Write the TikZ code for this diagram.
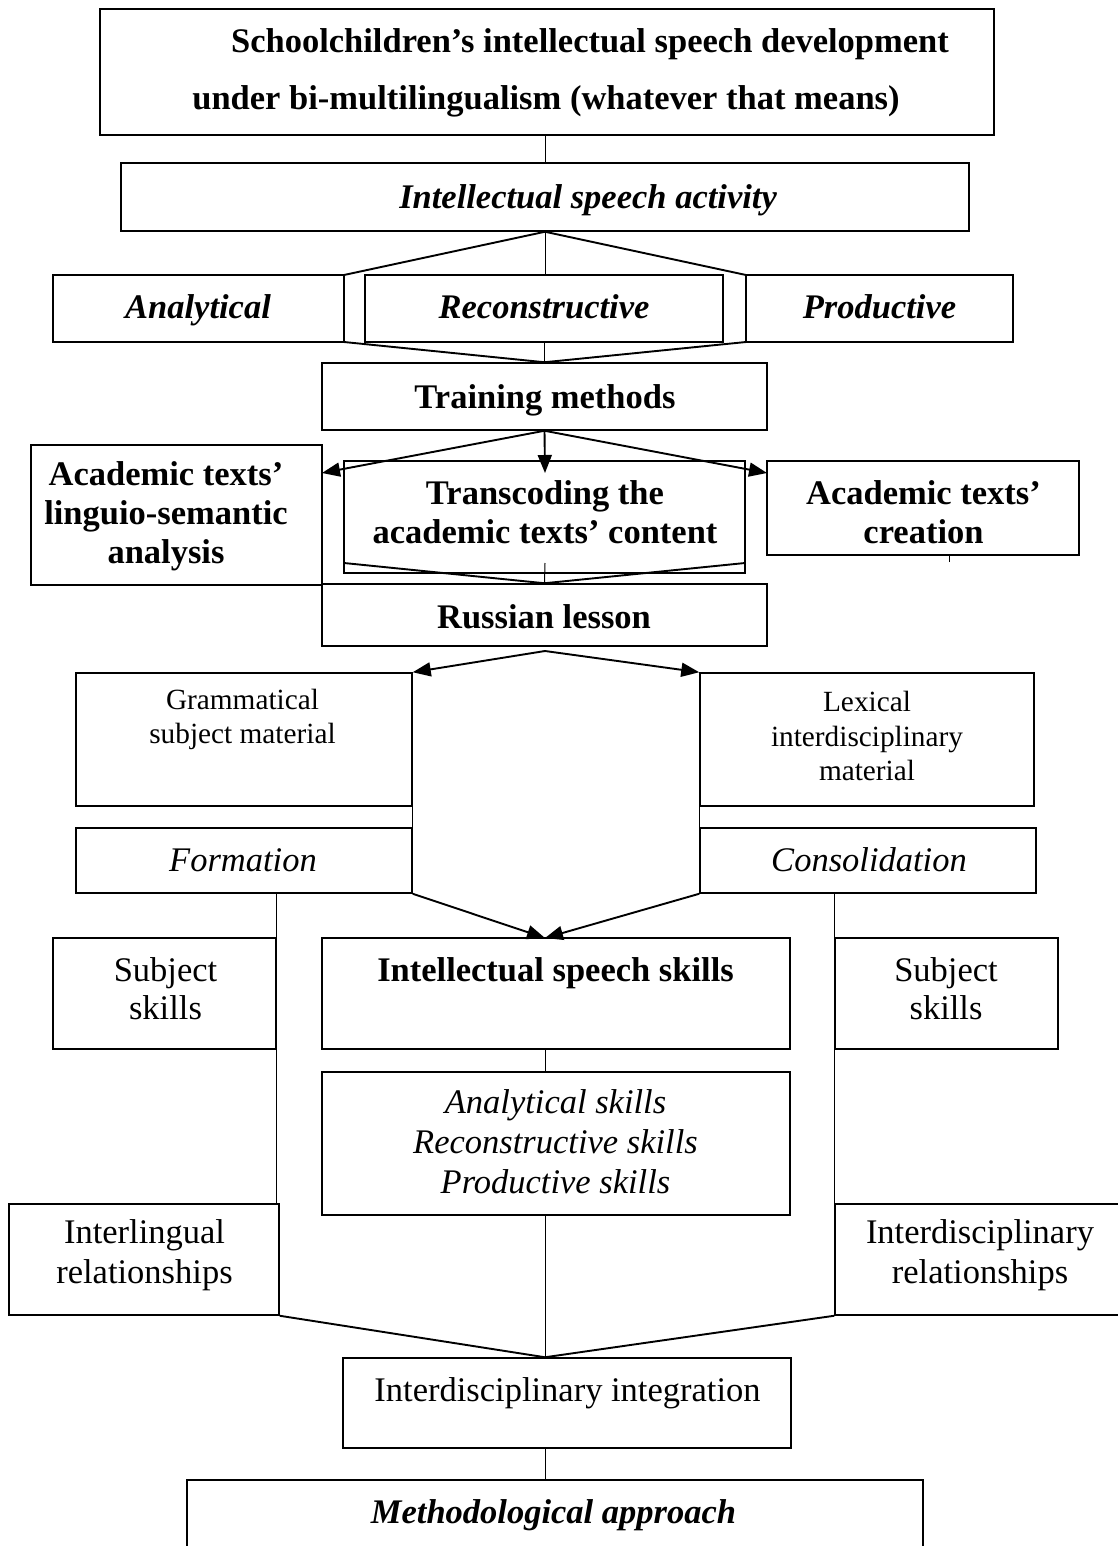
\documentclass[tikz,border=0pt]{standalone}
\usepackage{fontspec}
\setmainfont{Liberation Serif}
\usetikzlibrary{arrows.meta}
\newcommand\mybox[5]{\node[box, minimum width={(#4-#2)*1pt}, minimum height={(#5-#3)*1pt}] (#1) at ({(#2+#4)/2},{(#3+#5)/2}) {};}
\begin{document}
\begin{tikzpicture}[x=1pt,y=-1pt,
  box/.style={draw, line width=1.5pt, inner sep=0pt},
  txt/.style={inner sep=0pt, align=center, font=\fontsize{34.5}{39.5}\selectfont},
  one/.style={yshift=-4pt},
  smalltxt/.style={inner sep=0pt, align=center, font=\fontsize{29.3}{34.5}\selectfont},
  conn/.style={line width=1pt},
  diag/.style={line width=1.9pt},
  arr/.style={line width=1.9pt, -{Triangle[length=18pt,width=14pt]}}]
\useasboundingbox[fill=white] (0,0) rectangle (1117,1546);
% boxes
\mybox{t}{100}{9}{994}{135}
\mybox{isa}{121}{163}{969}{231}
\mybox{an}{53}{275}{344}{342}
\mybox{rc}{365}{275}{723}{342}
\mybox{pr}{746}{275}{1013}{342}
\mybox{tm}{322}{363}{767}{430}
\mybox{atl}{31}{445}{322}{585}
\mybox{tc}{344}{461}{745}{573}
\mybox{atc}{767}{461}{1079}{555}
\mybox{rl}{322}{584}{767}{646}
\mybox{gr}{76}{673}{412}{806}
\mybox{lx}{700}{673}{1034}{806}
\mybox{fo}{76}{828}{412}{893}
\mybox{co}{700}{828}{1036}{893}
\mybox{ssl}{53}{938}{276}{1049}
\mybox{iss}{322}{938}{790}{1049}
\mybox{ssr}{835}{938}{1058}{1049}
\mybox{sk}{322}{1072}{790}{1215}
\mybox{il}{9}{1204}{279}{1315}
\mybox{ir}{835}{1204}{1125}{1315}
\mybox{ii}{343}{1358}{791}{1448}
\mybox{ma}{187}{1480}{923}{1575}
% texts
\node[txt, font=\fontsize{34.5}{57}\selectfont\bfseries] (t-t) at (546,73)
  {\hspace*{88pt}Schoolchildren’s intellectual speech development\\under bi-multilingualism (whatever that means)};
\node[txt, one, font=\fontsize{34.5}{39.5}\selectfont\bfseries\itshape] (isa-t) at (588,197) {\strut Intellectual speech activity};
\node[txt, one, font=\fontsize{34.5}{39.5}\selectfont\bfseries\itshape] (an-t) at (198,307) {\strut Analytical};
\node[txt, one, font=\fontsize{34.5}{39.5}\selectfont\bfseries\itshape] (rc-t) at (544,307) {\strut Reconstructive};
\node[txt, one, font=\fontsize{34.5}{39.5}\selectfont\bfseries\itshape] (pr-t) at (879.5,307) {\strut Productive};
\node[txt, one, font=\fontsize{34.5}{39.5}\selectfont\bfseries] (tm-t) at (545,397) {\strut Training methods};
\node[txt, font=\fontsize{34.5}{39}\selectfont\bfseries] (atl-t) at (166,516) {Academic texts’\\linguio-semantic\\analysis};
\node[txt, font=\fontsize{34.5}{39}\selectfont\bfseries] (tc-t) at (545,512.5) {Transcoding the\\academic texts’ content};
\node[txt, font=\fontsize{34.5}{39}\selectfont\bfseries] (atc-t) at (923.5,512.5) {Academic texts’\\creation};
\node[txt, one, font=\fontsize{34.5}{39.5}\selectfont\bfseries] (rl-t) at (544,617) {\strut Russian lesson};
\node[smalltxt] (gr-t) at (242.5,719.5) {Grammatical\\subject material};
\node[smalltxt] (lx-t) at (867,736) {Lexical\\interdisciplinary\\material};
\node[txt, one, font=\fontsize{34.5}{39.5}\selectfont\itshape] (fo-t) at (243,860) {\strut Formation};
\node[txt, one, font=\fontsize{34.5}{39.5}\selectfont\itshape] (co-t) at (869,860) {\strut Consolidation};
\node[txt, font=\fontsize{34.5}{38}\selectfont] (ssl-t) at (165.5,989) {Subject\\skills};
\node[txt, font=\fontsize{34.5}{38}\selectfont] (ssr-t) at (946,989) {Subject\\skills};
\node[txt, one, font=\fontsize{34.5}{39.5}\selectfont\bfseries] (iss-t) at (555.5,970) {\strut Intellectual speech skills};
\node[txt, font=\fontsize{34.5}{40}\selectfont\itshape] (sk-t) at (555.5,1142) {Analytical skills\\Reconstructive skills\\Productive skills};
\node[txt, font=\fontsize{34.5}{40}\selectfont] (il-t) at (144.5,1255) {Interlingual\\relationships};
\node[txt, font=\fontsize{34.5}{40}\selectfont] (ir-t) at (980,1255) {Interdisciplinary\\relationships};
\node[txt, one] (ii-t) at (567.5,1390) {\strut Interdisciplinary integration};
\node[txt, one, font=\fontsize{34.5}{39.5}\selectfont\bfseries\itshape] (ma-t) at (553.5,1512) {\strut Methodological approach};
% coordinates
\coordinate (hl1) at (344,275);
\coordinate (hl2) at (344,342);
\coordinate (hr1) at (746,275);
\coordinate (hr2) at (746,342);
\coordinate (aL) at (322,473);
\coordinate (aM) at (545,473);
\coordinate (aR) at (767,473);
\coordinate (tl) at (344,563);
\coordinate (tr) at (745,563);
\coordinate (tmid) at (545,563);
\coordinate (tick) at (949,562);
\coordinate (rs) at (545,651);
\coordinate (issin) at (545,938);
% connectors
\draw[conn] (isa.north) -- (isa.north |- t.south);
\draw[diag] (isa.south) -- (hl1) -- (hl2) -- (tm.north);
\draw[diag] (isa.south) -- (hr1) -- (hr2) -- (tm.north);
\draw[conn] (isa.south) -- (isa.south |- rc.north);
\draw[conn] (tm.north) -- (tm.north |- rc.south);
\draw[arr] (tm.south) -- (aL);
\draw[arr] (tm.south) -- (aM);
\draw[arr] (tm.south) -- (aR);
\draw[diag] (tl) -- (rl.north);
\draw[diag] (tr) -- (rl.north);
\draw[conn] (tmid) -- (rl.north);
\draw[conn] (tick) -- (tick |- atc.south);
\draw[arr] (rs) -- (gr.north east);
\draw[arr] (rs) -- (lx.north west);
\draw[conn] (gr.north east) -- (fo.south east);
\draw[conn] (lx.north west) -- (co.south west);
\draw[arr] (fo.south east) -- (issin);
\draw[arr] (co.south west) -- (issin);
\draw[conn] (ssl.east |- fo.south) -- (ssl.east |- il.north);
\draw[conn] (ssr.west |- co.south) -- (ssr.west |- ir.north);
\draw[conn] (iss.south -| issin) -- (sk.north -| issin);
\draw[conn] (sk.south -| issin) -- (ii.north -| issin);
\draw[diag] (il.south east) -- (ii.north -| issin);
\draw[diag] (ir.south west) -- (ii.north -| issin);
\draw[conn] (ii.south -| issin) -- (ma.north -| issin);
\end{tikzpicture}
\end{document}
